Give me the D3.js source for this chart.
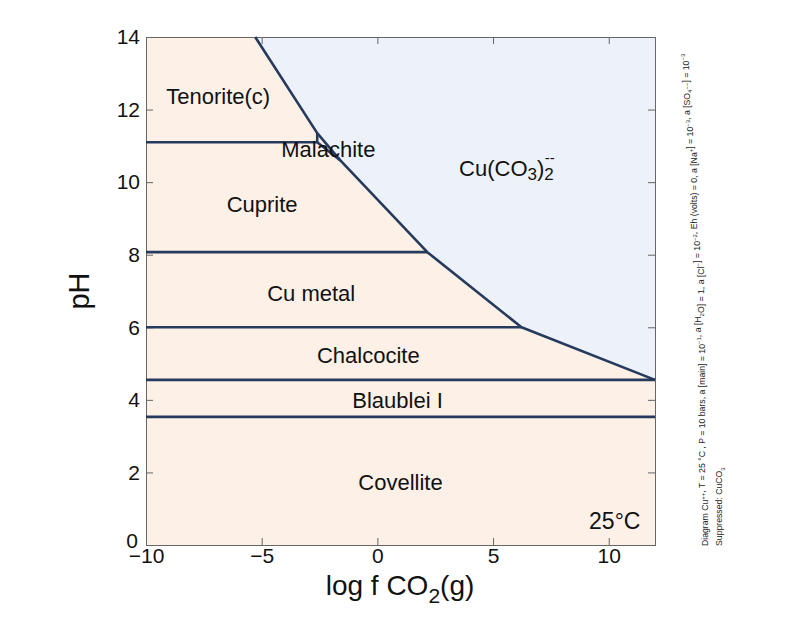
<!DOCTYPE html>
<html><head><meta charset="utf-8">
<script src="https://cdn.jsdelivr.net/npm/d3@7/dist/d3.min.js"></script>
<style>body{margin:0;background:#fff}svg{display:block;font-family:"Liberation Sans",Arial,sans-serif}</style>
</head><body><svg id="c" width="800" height="618"></svg>
<script>
// ---- data ----
const xDomain = [-10, 12];
const yDomain = [0, 14];
const xTicks = [-10, -5, 0, 5, 10];
const yTicks = [0, 2, 4, 6, 8, 10, 12, 14];
// predominance boundary polylines [log fCO2, pH]
const aqueousBoundary = [[-5.28, 14], [-2.6, 11.35], [-1.6, 10.6], [2.16, 8.07], [6.23, 6.0], [12, 4.55]];
const boundaries = [
  [[-10, 11.1], [-2.6, 11.1]],
  [[-2.6, 11.35], [-2.6, 11.1]],
  [[-2.6, 11.1], [-1.6, 10.6]],
  [[-10, 8.07], [2.16, 8.07]],
  [[-10, 6.0], [6.23, 6.0]],
  [[-10, 4.55], [12, 4.55]],
  [[-10, 3.53], [12, 3.53]]
];
const fieldLabels = [
  {t: "Tenorite(c)", x: -6.88, y: 12.37},
  {t: "Malachite", x: -2.12, y: 10.91},
  {t: "Cuprite", x: -4.98, y: 9.39},
  {t: "Cu metal", x: -2.86, y: 6.94},
  {t: "Chalcocite", x: -0.39, y: 5.21},
  {t: "Blaublei I", x: 0.87, y: 3.99},
  {t: "Covellite", x: 1.0, y: 1.71}
];
const aqLabel = {x: 5.6, y: 10.39};
const tempLabel = {t: "25°C", x: 10.26, y: 0.66};

// ---- drawing ----
const svg = d3.select("#c");
const x = d3.scaleLinear().domain(xDomain).range([146, 655]);
const y = d3.scaleLinear().domain(yDomain).range([545, 37]);
const lineCol = "#253a5c";

// fields
svg.append("rect").attr("x", x(-10)).attr("y", y(14)).attr("width", x(12)-x(-10)).attr("height", y(0)-y(14)).attr("fill", "#fcf0e7");
const aqPoly = aqueousBoundary.concat([[12, 14]]);
svg.append("path").attr("d", d3.line().x(d=>x(d[0])).y(d=>y(d[1]))(aqPoly) + "Z").attr("fill", "#edf1f9");

// axes (ticks inward)
const gb = svg.append("g").attr("transform", `translate(0,${y(0)})`).call(d3.axisBottom(x).tickValues(xTicks).tickSize(-7).tickPadding(9).tickFormat(d=>d<0?"\u2212"+Math.abs(d):d));
const gt = svg.append("g").attr("transform", `translate(0,${y(14)})`).call(d3.axisTop(x).tickValues(xTicks).tickSize(-7).tickFormat(""));
const gl = svg.append("g").attr("transform", `translate(${x(-10)},0)`).call(d3.axisLeft(y).tickValues(yTicks).tickSize(-7).tickPadding(6));
const gr = svg.append("g").attr("transform", `translate(${x(12)},0)`).call(d3.axisRight(y).tickValues(yTicks).tickSize(-7).tickFormat(""));
[gb, gt, gl, gr].forEach(g => {
  g.selectAll("path.domain").attr("stroke", "#666").attr("stroke-width", 1);
  g.selectAll(".tick line").attr("stroke", "#666");
  g.selectAll("text").attr("font-size", 21).attr("fill", "#111").attr("font-family", "Liberation Sans, Arial, sans-serif");
});
gb.selectAll("text").attr("dy", "0.45em");
gl.selectAll(".tick").filter(d => d === 0).select("text").attr("dy", "0.1em").attr("dx", "-0.1em");

// boundaries
const lg = d3.line().x(d=>x(d[0])).y(d=>y(d[1]));
svg.append("path").attr("d", lg(aqueousBoundary)).attr("fill", "none").attr("stroke", lineCol).attr("stroke-width", 2.6).attr("stroke-linejoin", "round");
boundaries.forEach(b => svg.append("path").attr("d", lg(b)).attr("fill", "none").attr("stroke", lineCol).attr("stroke-width", 2.6));

// field labels
fieldLabels.forEach(l => svg.append("text").attr("x", x(l.x)).attr("y", y(l.y)).attr("text-anchor", "middle").attr("dominant-baseline", "central").attr("font-size", 22).attr("fill", "#111").text(l.t));
const aq = svg.append("text").attr("x", x(aqLabel.x)).attr("y", y(aqLabel.y)).attr("text-anchor", "middle").attr("dominant-baseline", "central").attr("font-size", 22).attr("fill", "#111");
aq.append("tspan").text("Cu(CO");
aq.append("tspan").attr("font-size", 17).attr("dy", 6).text("3");
aq.append("tspan").attr("dy", -6).text(")");
aq.append("tspan").attr("font-size", 17).attr("dy", 6).text("2");
aq.append("tspan").attr("font-size", 15).attr("dx", -9).attr("dy", -17).text("--");
svg.append("text").attr("x", x(tempLabel.x)).attr("y", y(tempLabel.y)).attr("text-anchor", "middle").attr("dominant-baseline", "central").attr("font-size", 23).attr("fill", "#111").text(tempLabel.t);

// axis titles
svg.append("text").attr("transform", "translate(89,291) rotate(-90)").attr("text-anchor", "middle").attr("font-size", 29).attr("fill", "#111").text("pH");
const xt = svg.append("text").attr("x", 400).attr("y", 595).attr("text-anchor", "middle").attr("font-size", 28).attr("fill", "#111");
xt.append("tspan").text("log f CO");
xt.append("tspan").attr("font-size", 21).attr("dy", 8).text("2");
xt.append("tspan").attr("dy", -8).text("(g)");

// side note
const note = svg.append("g").attr("font-size", 8.7).attr("fill", "#222");
function sup(t, s){ t.append("tspan").attr("dy", -3.5).attr("font-size", 6).text(s); t.append("tspan").attr("dy", 3.5).text(""); }
function sub(t, s){ t.append("tspan").attr("dy", 2.5).attr("font-size", 6).text(s); t.append("tspan").attr("dy", -2.5).text(""); }
const n1 = note.append("text").attr("transform", "translate(708,546) rotate(-90)");
const parts = [["t","Diagram Cu"],["sup","++"],["t",", T = 25 °C , P = 10 bars, a [main] = 10"],["sup","−1"],["t",", a [H"],["sub","2"],["t","O] = 1, a [Cl"],["sup","−"],["t","] = 10"],["sup","−2"],["t",", Eh (volts) = 0, a [Na"],["sup","+"],["t","] = 10"],["sup","−3"],["t",", a [SO"],["sub","4"],["sup","−−"],["t","] = 10"],["sup","−3"]];
parts.forEach(p => { if (p[0]==="t") n1.append("tspan").text(p[1]); else if (p[0]==="sup") sup(n1, p[1]); else sub(n1, p[1]); });
const n2 = note.append("text").attr("transform", "translate(722,546) rotate(-90)");
n2.append("tspan").text("Suppressed: CuCO");
sub(n2, "3");
</script></body></html>
